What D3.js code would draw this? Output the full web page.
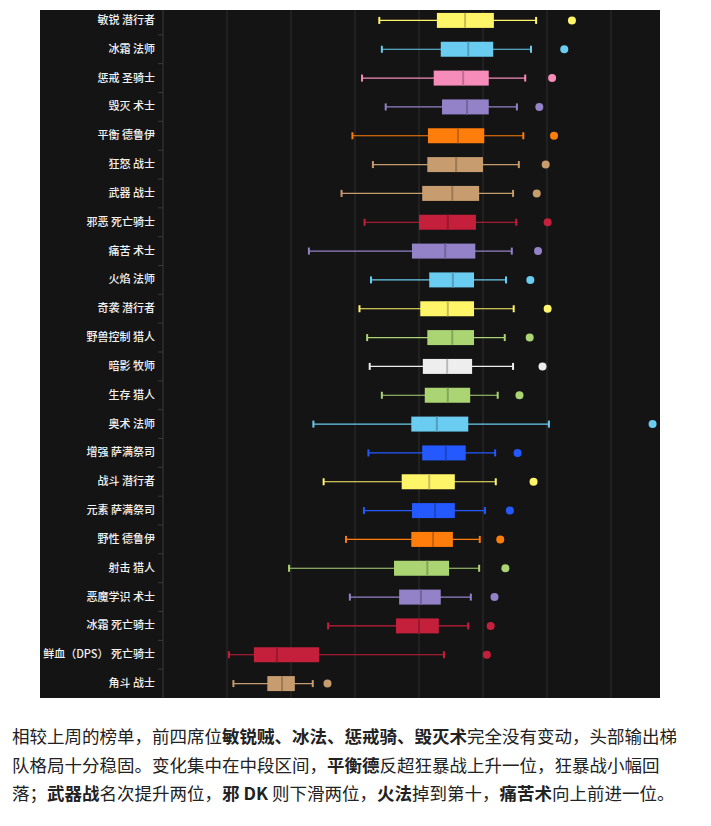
<!DOCTYPE html>
<html>
<head>
<meta charset="utf-8">
<script src="https://cdn.jsdelivr.net/npm/d3@7"></script>
<style>
  body { margin: 0; background: #fff; font-family: "Noto Sans CJK SC", "Noto Sans", sans-serif; }
  #chart { position: absolute; left: 0; top: 0; }
  #note {
    position: absolute; left: 12px; top: 722px; width: 700px;
    font-size: 17.5px; line-height: 28.5px; color: #222; white-space: nowrap;
  }
  #note b { font-weight: bold; }
</style>
</head>
<body>
<div id="chart"></div>
<div id="note">
  相较上周的榜单，前四席位<b>敏锐贼、冰法、惩戒骑、毁灭术</b>完全没有变动，头部输出梯<br>
  队格局十分稳固。变化集中在中段区间，<b>平衡德</b>反超狂暴战上升一位，狂暴战小幅回<br>
  落；<b>武器战</b>名次提升两位，<b>邪 DK</b> 则下滑两位，<b>火法</b>掉到第十，<b>痛苦术</b>向上前进一位。
</div>
<script>
// specs, top to bottom
var specs = ["敏锐 潜行者", "冰霜 法师", "惩戒 圣骑士", "毁灭 术士", "平衡 德鲁伊", "狂怒 战士",
  "武器 战士", "邪恶 死亡骑士", "痛苦 术士", "火焰 法师", "奇袭 潜行者", "野兽控制 猎人",
  "暗影 牧师", "生存 猎人", "奥术 法师", "增强 萨满祭司", "战斗 潜行者", "元素 萨满祭司",
  "野性 德鲁伊", "射击 猎人", "恶魔学识 术士", "冰霜 死亡骑士", "鲜血（DPS） 死亡骑士", "角斗 战士"];
var classes = ["rogue", "mage", "paladin", "warlock", "druid", "warrior",
  "warrior", "dk", "warlock", "mage", "rogue", "hunter",
  "priest", "hunter", "mage", "shaman", "rogue", "shaman",
  "druid", "hunter", "warlock", "dk", "dk", "warrior"];

// box stats (arbitrary units)
var whiskerLow = [33.8, 34.2, 31.1, 34.8, 29.6, 32.8, 27.9, 31.5, 22.8, 32.5, 30.7, 31.9,
  32.3, 34.2, 23.5, 32.1, 25.1, 31.4, 28.6, 19.7, 29.2, 25.8, 10.3, 11.0];
var q1 = [42.8, 43.4, 42.3, 43.6, 41.4, 41.3, 40.5, 40.0, 38.9, 41.6, 40.2, 41.3,
  40.6, 40.9, 38.8, 40.5, 37.3, 38.9, 38.8, 36.1, 36.9, 36.4, 14.2, 16.3];
var median = [47.2, 47.7, 46.9, 47.5, 46.1, 45.8, 45.2, 44.5, 44.1, 45.3, 44.5, 45.2,
  44.4, 44.5, 42.8, 44.2, 41.6, 42.5, 42.2, 41.3, 40.3, 40.0, 17.8, 18.6];
var q3 = [51.7, 51.6, 50.9, 50.9, 50.2, 50.0, 49.4, 48.9, 48.8, 48.6, 48.6, 48.6,
  48.3, 48.0, 47.7, 47.3, 45.6, 45.6, 45.3, 44.7, 43.4, 43.1, 24.4, 20.6];
var whiskerHigh = [58.3, 57.5, 56.6, 55.3, 56.3, 55.6, 54.7, 55.2, 54.5, 53.6, 54.8, 53.4,
  54.7, 52.3, 60.3, 51.9, 52.0, 50.3, 49.5, 49.4, 48.1, 47.7, 43.9, 23.4];
var outlier = [63.9, 62.7, 60.8, 58.8, 61.1, 59.8, 58.4, 60.1, 58.6, 57.4, 60.1, 57.3,
  59.3, 55.7, 76.5, 55.4, 57.9, 54.2, 52.7, 53.5, 51.8, 51.2, 50.6, 25.7];
var gridTicks = [10, 20, 30, 40, 50, 60, 70];

var classColor = {
  rogue: "#fff569", mage: "#69ccf0", paladin: "#f58cba", warlock: "#9482c9",
  druid: "#ff7d0a", warrior: "#c79c6e", dk: "#c41f3b", hunter: "#abd473",
  priest: "#eeeeee", shaman: "#2459ff"
};

var rows = specs.map(function(s, i) {
  return { name: s, color: classColor[classes[i]], lo: whiskerLow[i], q1: q1[i],
    med: median[i], q3: q3[i], hi: whiskerHigh[i], out: outlier[i] };
});

var width = 711, height = 715;
var plot = { left: 163, right: 660, top: 10, bottom: 698 };

var svg = d3.select("#chart").append("svg")
  .attr("width", width)
  .attr("height", height);

svg.append("rect")
  .attr("x", 40).attr("y", plot.top)
  .attr("width", plot.right - 40).attr("height", plot.bottom - plot.top)
  .attr("fill", "#141414");

var x = d3.scaleLinear().domain([0, 77.66]).range([plot.left, plot.right]);
var y = d3.scaleBand().domain(specs).range([6, plot.bottom]);

// grid
svg.append("g").selectAll("line")
  .data(gridTicks)
  .enter().append("line")
  .attr("x1", function(d) { return x(d); })
  .attr("x2", function(d) { return x(d); })
  .attr("y1", plot.top).attr("y2", plot.bottom)
  .attr("stroke", "#2f2f2f").attr("stroke-width", 1);

// y axis with labels
var yAxis = svg.append("g")
  .attr("transform", "translate(" + plot.left + ",0)")
  .call(d3.axisLeft(y).tickSize(0).tickPadding(8));
yAxis.select(".domain").remove();
yAxis.selectAll("text")
  .attr("fill", "#f2f2f2")
  .style("font-size", "11px")
  .style("font-weight", "500")
  .style("font-family", "'Noto Sans CJK SC', sans-serif");

svg.append("line")
  .attr("x1", plot.left).attr("x2", plot.left)
  .attr("y1", plot.top).attr("y2", plot.bottom)
  .attr("stroke", "#3a3a3a");

// ticks between rows
svg.append("g").selectAll("line")
  .data(specs.slice(1))
  .enter().append("line")
  .attr("x1", plot.left - 5).attr("x2", plot.left)
  .attr("y1", function(d) { return y(d); })
  .attr("y2", function(d) { return y(d); })
  .attr("stroke", "#3a3a3a");

var boxH = y.bandwidth() * 0.52;
var capH = 7;

var g = svg.append("g").selectAll("g")
  .data(rows)
  .enter().append("g")
  .attr("transform", function(d) { return "translate(0," + (y(d.name) + y.bandwidth() / 2) + ")"; });

g.append("line")
  .attr("x1", function(d) { return x(d.lo); })
  .attr("x2", function(d) { return x(d.hi); })
  .attr("stroke", function(d) { return d.color; })
  .attr("stroke-width", 1.2);

g.selectAll(".cap")
  .data(function(d) { return [{ v: d.lo, c: d.color }, { v: d.hi, c: d.color }]; })
  .enter().append("line")
  .attr("class", "cap")
  .attr("x1", function(d) { return x(d.v); })
  .attr("x2", function(d) { return x(d.v); })
  .attr("y1", -capH / 2).attr("y2", capH / 2)
  .attr("stroke", function(d) { return d.c; })
  .attr("stroke-width", 2);

g.append("rect")
  .attr("x", function(d) { return x(d.q1); })
  .attr("width", function(d) { return x(d.q3) - x(d.q1); })
  .attr("y", -boxH / 2).attr("height", boxH)
  .attr("fill", function(d) { return d.color; });

g.append("line")
  .attr("x1", function(d) { return x(d.med); })
  .attr("x2", function(d) { return x(d.med); })
  .attr("y1", -boxH / 2).attr("y2", boxH / 2)
  .attr("stroke", function(d) { return d3.color(d.color).darker(0.7); })
  .attr("stroke-width", 2);

g.append("circle")
  .attr("cx", function(d) { return x(d.out); })
  .attr("r", 4)
  .attr("fill", function(d) { return d.color; });
</script>
</body>
</html>
